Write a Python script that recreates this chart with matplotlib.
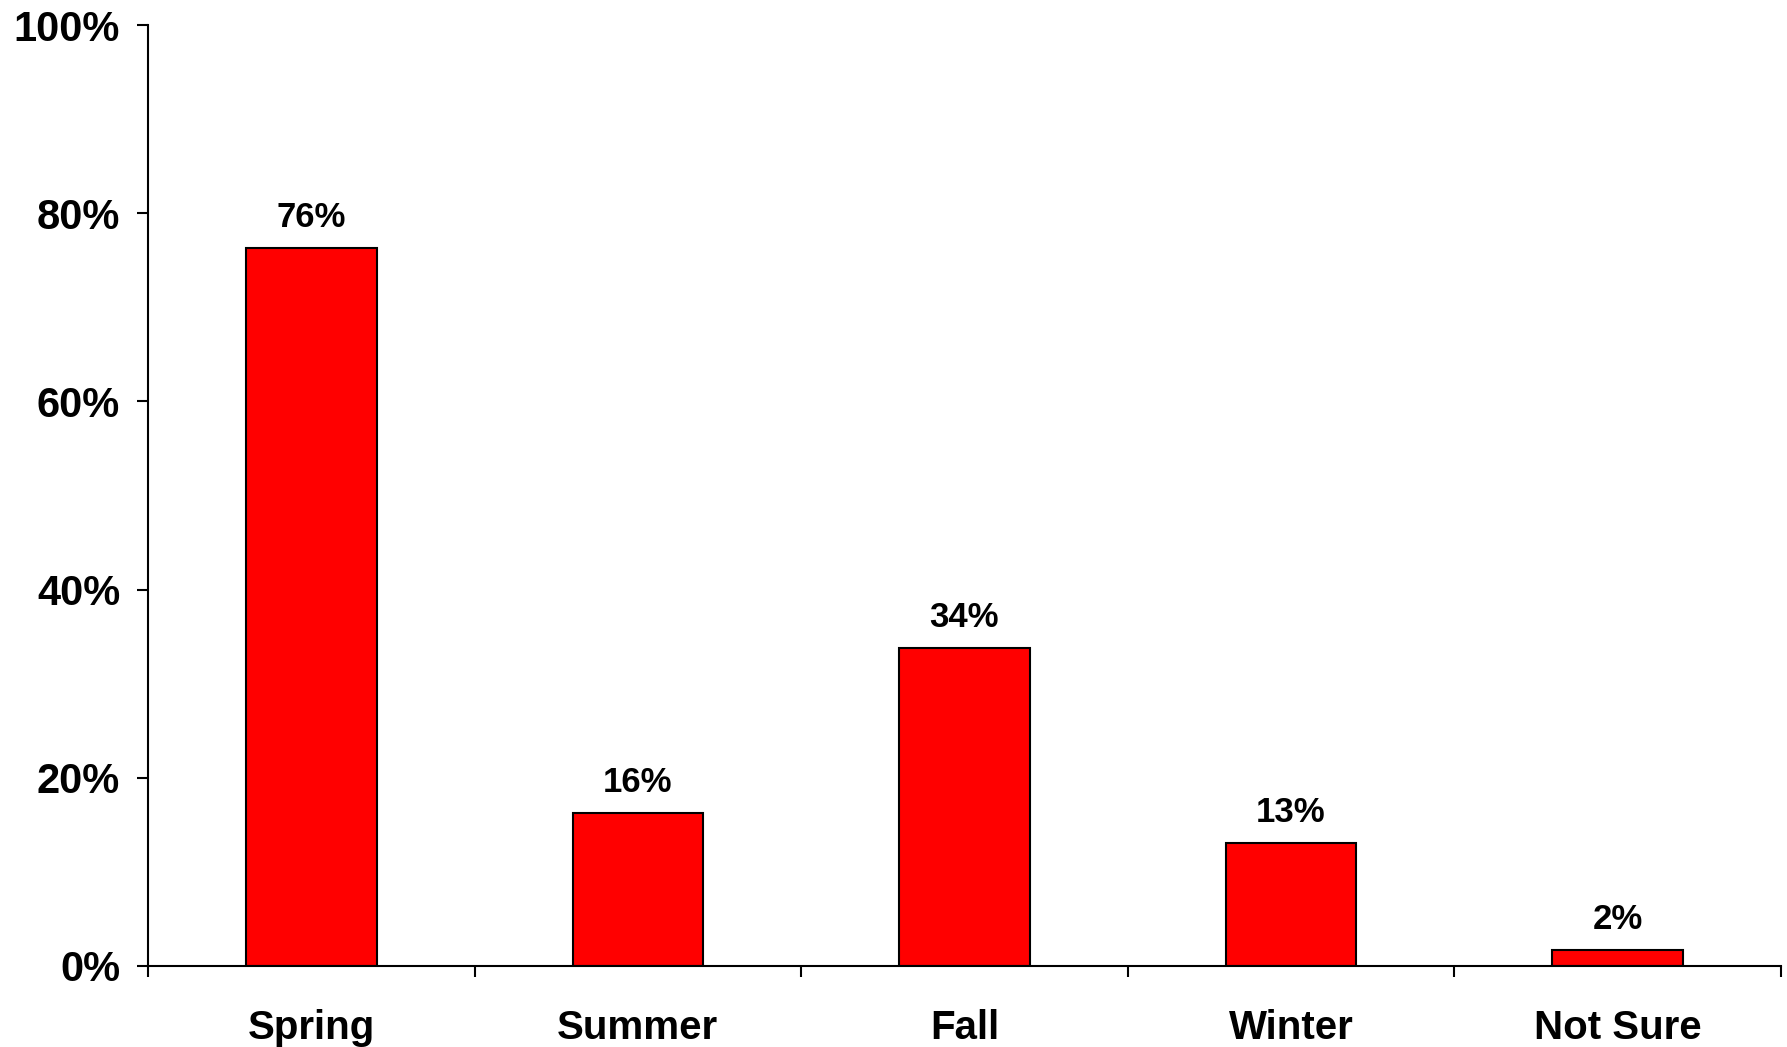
import matplotlib
matplotlib.use("Agg")
import matplotlib.pyplot as plt
from matplotlib.ticker import FuncFormatter

# data
categories = ["Spring", "Summer", "Fall", "Winter", "Not Sure"]
values = [76.3, 16.3, 33.8, 13.1, 1.7]
bar_labels = ["76%", "16%", "34%", "13%", "2%"]
y_ticks = [0, 20, 40, 60, 80, 100]

plt.rcParams["font.family"] = ["Liberation Sans", "DejaVu Sans"]
plt.rcParams["font.weight"] = "bold"

fig = plt.figure(figsize=(17.87, 10.47), dpi=100)
ax = fig.add_axes([0.0828, 0.0774, 0.9138, 0.8987])

x = list(range(len(categories)))
bars = ax.bar(x, values, width=0.4, color="#ff0000", edgecolor="black", linewidth=1.5)

for b, lab in zip(bars, bar_labels):
    ax.annotate(lab, (b.get_x() + b.get_width() / 2, b.get_height()),
                xytext=(0, 10), textcoords="offset points",
                ha="center", va="bottom", fontsize=25, fontweight="bold")

ax.set_xlim(-0.5, len(categories) - 0.5)
ax.set_ylim(0, 100)
ax.set_yticks(y_ticks)
ax.yaxis.set_major_formatter(FuncFormatter(lambda v, p: f"{v:.0f}%"))
ax.set_xticks([i - 0.5 for i in range(len(categories) + 1)])
ax.set_xticklabels([])
ax.set_xticks(x, minor=True)
ax.set_xticklabels(categories, minor=True, fontsize=29, fontweight="bold")
ax.tick_params(axis="x", which="minor", length=0, pad=31)
ax.tick_params(axis="x", which="major", length=8, width=1.5, direction="out")
ax.tick_params(axis="y", length=8, width=1.5, labelsize=30, pad=12)
for lab in ax.get_yticklabels():
    lab.set_fontweight("bold")

for s in ["top", "right"]:
    ax.spines[s].set_visible(False)
for s in ["left", "bottom"]:
    ax.spines[s].set_linewidth(1.5)

fig.savefig("out.png", dpi=100)
